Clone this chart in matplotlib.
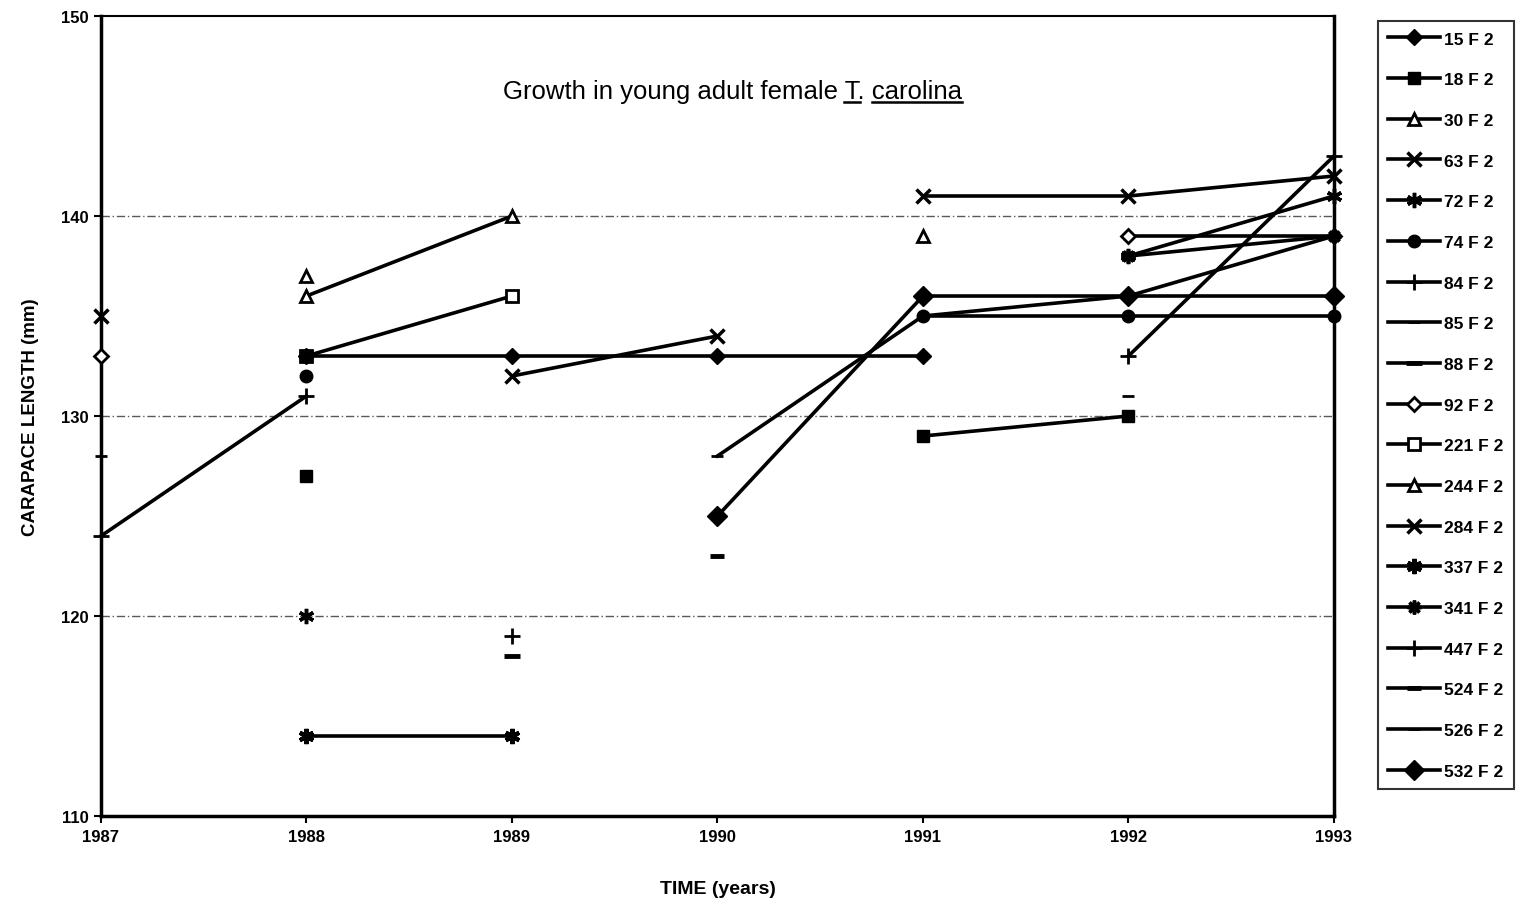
"""Growth curves for young adult female T. carolina (carapace length by year)."""

import numpy as np
import matplotlib.pyplot as plt
from matplotlib.lines import Line2D

nan = np.nan

years = [1987, 1988, 1989, 1990, 1991, 1992, 1993]

# carapace length (mm) per turtle, NaN where not measured
t15 = [nan, 133, 133, 133, 133, nan, nan]
t18 = [nan, 127, nan, nan, 129, 130, nan]
t30 = [nan, 136, 140, nan, nan, nan, nan]
t63 = [135, nan, nan, nan, 141, 141, 142]
t72 = [nan, 120, nan, nan, nan, 138, 141]
t74 = [nan, 132, nan, nan, 135, 135, 135]
t84 = [124, 131, nan, nan, nan, nan, nan]
t85 = [128, nan, nan, 128, 135, 136, 139]
t88 = [nan, nan, 118, nan, nan, nan, nan]
t92 = [133, nan, nan, nan, nan, 139, 139]
t221 = [nan, 133, 136, nan, nan, nan, nan]
t244 = [nan, 137, nan, nan, 139, nan, nan]
t284 = [nan, nan, 132, 134, nan, nan, nan]
t337 = [nan, 114, 114, nan, nan, nan, nan]
t341 = [nan, 133, nan, nan, nan, 138, 139]
t447 = [nan, nan, 119, nan, nan, 133, 143]
t524 = [nan, nan, nan, 123, nan, nan, nan]
t526 = [nan, nan, nan, nan, nan, 131, nan]
t532 = [nan, nan, nan, 125, 136, 136, 136]

labels = ["15 F 2", "18 F 2", "30 F 2", "63 F 2", "72 F 2", "74 F 2",
          "84 F 2", "85 F 2", "88 F 2", "92 F 2", "221 F 2", "244 F 2",
          "284 F 2", "337 F 2", "341 F 2", "447 F 2", "524 F 2", "526 F 2",
          "532 F 2"]
series = [t15, t18, t30, t63, t72, t74, t84, t85, t88, t92, t221, t244,
          t284, t337, t341, t447, t524, t526, t532]

# marker styles, roughly the Excel defaults in black and white
styles = [
    dict(marker="D", ms=8, mfc="k"),
    dict(marker="s", ms=9, mfc="k"),
    dict(marker="^", ms=9, mfc="w", mew=2),
    dict(marker="x", ms=10, mew=2.5),
    dict(marker=(6, 2, 0), ms=11, mew=2.5),
    dict(marker="o", ms=9, mfc="k"),
    dict(marker="+", ms=11, mew=2),
    dict(marker="_", ms=9, mew=2),
    dict(marker="_", ms=11, mew=3.5),
    dict(marker="D", ms=7, mfc="w", mew=2),
    dict(marker="s", ms=9, mfc="w", mew=2),
    dict(marker="^", ms=9, mfc="w", mew=2),
    dict(marker="x", ms=10, mew=2.5),
    dict(marker=(6, 2, 0), ms=11, mew=3),
    dict(marker=(8, 2, 0), ms=10, mew=2.5),
    dict(marker="+", ms=11, mew=2),
    dict(marker="_", ms=10, mew=3.5),
    dict(marker="_", ms=9, mew=2),
    dict(marker="D", ms=10, mfc="k"),
]

plt.rcParams["font.family"] = ["Liberation Sans", "DejaVu Sans"]

fig = plt.figure(figsize=(15.27, 9.04), dpi=100)
ax = fig.add_axes([0.0661, 0.0962, 0.8075, 0.885])

for vals, lab, st in zip(series, labels, styles):
    ax.plot(years, vals, color="k", mec="k", lw=2.6, label=lab,
            clip_on=False, zorder=3, **st)

ax.set_xlim(1987, 1993)
ax.set_ylim(110, 150)
ax.set_xticks(years)
ax.set_yticks([110, 120, 130, 140, 150])
for y in [120, 130, 140]:
    ax.axhline(y, color="0.35", lw=1, ls=(0, (6, 2, 1, 2)), zorder=1)

for sp in ax.spines.values():
    sp.set_linewidth(1.5)
ax.spines["left"].set_linewidth(2.5)
ax.spines["bottom"].set_linewidth(2.5)
ax.spines["right"].set_linewidth(2.5)

ax.tick_params(axis="both", length=5, width=1.5, labelsize=12, pad=4)
for t in ax.get_xticklabels() + ax.get_yticklabels():
    t.set_fontweight("bold")

ax.set_xlabel("TIME (years)", fontsize=14, fontweight="bold", labelpad=26)
ax.set_ylabel("CARAPACE LENGTH (mm)", fontsize=13.5, fontweight="bold",
              labelpad=16)

# title inside the plot, with the species name underlined
title = "Growth in young adult female T. carolina"
title_x, title_y = 0.512, 0.8975
tx = ax.text(title_x, title_y, title, transform=ax.transAxes, ha="center",
             va="baseline", fontsize=18.5)
fig.canvas.draw()
renderer = fig.canvas.get_renderer()
prop = tx.get_fontproperties()


def text_w(s):
    return renderer.get_text_width_height_descent(s, prop, ismath=False)[0]


bb = tx.get_window_extent(renderer)
x0 = bb.x0
base = ax.transAxes.transform((title_x, title_y))[1] - 4
pre = "Growth in young adult female T"
for start, end in [(x0 + text_w(pre) - text_w("T"), x0 + text_w(pre)),
                   (bb.x1 - text_w("carolina"), bb.x1)]:
    (fx0, fy), (fx1, _) = fig.transFigure.inverted().transform(
        [(start, base), (end, base)])
    fig.add_artist(Line2D([fx0, fx1], [fy, fy], color="k", lw=1.8))

leg = ax.legend(loc="upper left", bbox_to_anchor=(0.9024, 0.9757),
                bbox_transform=fig.transFigure, frameon=True, fancybox=False,
                edgecolor="k", fontsize=12.5, handlelength=3.0,
                labelspacing=1.47, borderpad=0.6, handletextpad=0.2,
                borderaxespad=0)
leg.get_frame().set_linewidth(1.5)
for t in leg.get_texts():
    t.set_fontweight("bold")

fig.savefig("out.png", dpi=100)
